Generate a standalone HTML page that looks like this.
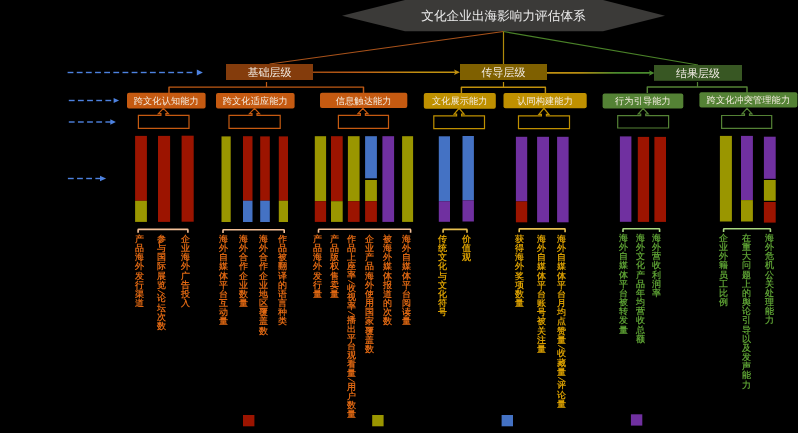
<!DOCTYPE html>
<html><head><meta charset="utf-8"><style>
html,body{margin:0;padding:0;background:#000;width:798px;height:433px;overflow:hidden}
svg{position:absolute;left:0;top:0;font-family:"Liberation Sans",sans-serif;will-change:transform;text-rendering:geometricPrecision}
.lb{position:absolute;top:234.5px;width:9.2px;font-family:"Liberation Serif",serif;font-size:8.6px;font-weight:bold;line-height:9.15px;word-break:break-all;text-align:center;will-change:transform}
.sl{display:block;position:static}
</style></head><body>
<svg width="798" height="433" viewBox="0 0 798 433">
<polygon points="342,15.7 405,0 603,0 665,15.7 603,31.3 405,31.3" fill="#3b3a38"/>
<text x="503.5" y="19.9" font-size="12.65" fill="#ececec" text-anchor="middle">文化企业出海影响力评估体系</text>
<line x1="503.5" y1="31.5" x2="269.5" y2="64" stroke="#a8521a" stroke-width="1.2"/>
<line x1="503.5" y1="31.5" x2="503.5" y2="64" stroke="#b08a0a" stroke-width="1.2"/>
<line x1="503.5" y1="31.5" x2="698" y2="65" stroke="#4a8228" stroke-width="1.2"/>
<defs>
<linearGradient id="g1" x1="313" y1="0" x2="460" y2="0" gradientUnits="userSpaceOnUse"><stop offset="0" stop-color="#a04c12"/><stop offset="0.3" stop-color="#bc5c16"/><stop offset="0.72" stop-color="#c09010"/><stop offset="1" stop-color="#c09010"/></linearGradient>
<linearGradient id="g2" x1="547" y1="0" x2="654" y2="0" gradientUnits="userSpaceOnUse"><stop offset="0" stop-color="#c09010"/><stop offset="0.3" stop-color="#b88c10"/><stop offset="0.65" stop-color="#4a8a2e"/><stop offset="1" stop-color="#4a8a2e"/></linearGradient>
</defs>
<rect x="226" y="64" width="87" height="16" fill="#843c0c"/>
<text x="269.5" y="75.8" font-size="11" fill="#f2ece4" text-anchor="middle">基础层级</text>
<rect x="460" y="64" width="87" height="16" fill="#7f6000"/>
<text x="503.5" y="75.8" font-size="11" fill="#f2ece4" text-anchor="middle">传导层级</text>
<rect x="654" y="65" width="88" height="15.799999999999997" fill="#385723"/>
<text x="698.0" y="76.6" font-size="11" fill="#f2ece4" text-anchor="middle">结果层级</text>
<line x1="313" y1="72.2" x2="456" y2="72.2" stroke="url(#g1)" stroke-width="1.6"/>
<polygon points="454,69.6 459.9,72.2 454,74.9 455.3,72.2" fill="#c09010"/>
<line x1="547" y1="72.9" x2="650" y2="72.9" stroke="url(#g2)" stroke-width="1.6"/>
<polygon points="648.9,70.2 654.5,72.9 648.9,75.7 650.2,72.9" fill="#4a8a2e"/>
<rect x="67.60" y="71.80" width="5.80" height="1.4" fill="#4d82e0"/>
<rect x="76.75" y="71.80" width="5.80" height="1.4" fill="#4d82e0"/>
<rect x="85.90" y="71.80" width="5.80" height="1.4" fill="#4d82e0"/>
<rect x="95.05" y="71.80" width="5.80" height="1.4" fill="#4d82e0"/>
<rect x="104.20" y="71.80" width="5.80" height="1.4" fill="#4d82e0"/>
<rect x="113.35" y="71.80" width="5.80" height="1.4" fill="#4d82e0"/>
<rect x="122.50" y="71.80" width="5.80" height="1.4" fill="#4d82e0"/>
<rect x="131.65" y="71.80" width="5.80" height="1.4" fill="#4d82e0"/>
<rect x="140.80" y="71.80" width="5.80" height="1.4" fill="#4d82e0"/>
<rect x="149.95" y="71.80" width="5.80" height="1.4" fill="#4d82e0"/>
<rect x="159.10" y="71.80" width="5.80" height="1.4" fill="#4d82e0"/>
<rect x="168.25" y="71.80" width="5.80" height="1.4" fill="#4d82e0"/>
<rect x="177.40" y="71.80" width="5.80" height="1.4" fill="#4d82e0"/>
<rect x="186.55" y="71.80" width="5.80" height="1.4" fill="#4d82e0"/>
<polygon points="196.8,69.6 202.9,72.5 196.8,75.4" fill="#4d82e0"/>
<rect x="68.80" y="99.80" width="5.80" height="1.4" fill="#4d82e0"/>
<rect x="77.95" y="99.80" width="5.80" height="1.4" fill="#4d82e0"/>
<rect x="87.10" y="99.80" width="5.80" height="1.4" fill="#4d82e0"/>
<rect x="96.25" y="99.80" width="5.80" height="1.4" fill="#4d82e0"/>
<rect x="105.40" y="99.80" width="5.80" height="1.4" fill="#4d82e0"/>
<polygon points="113.6,97.9 119.1,100.5 113.6,103.1" fill="#4d82e0"/>
<rect x="68.80" y="121.30" width="5.80" height="1.4" fill="#4d82e0"/>
<rect x="77.95" y="121.30" width="5.80" height="1.4" fill="#4d82e0"/>
<rect x="87.10" y="121.30" width="5.80" height="1.4" fill="#4d82e0"/>
<rect x="96.25" y="121.30" width="5.80" height="1.4" fill="#4d82e0"/>
<rect x="105.40" y="121.30" width="5.80" height="1.4" fill="#4d82e0"/>
<polygon points="110.3,119.3 115.9,122 110.3,124.7" fill="#4d82e0"/>
<rect x="67.90" y="177.80" width="5.80" height="1.4" fill="#4d82e0"/>
<rect x="77.05" y="177.80" width="5.80" height="1.4" fill="#4d82e0"/>
<rect x="86.20" y="177.80" width="5.80" height="1.4" fill="#4d82e0"/>
<rect x="95.35" y="177.80" width="5.65" height="1.4" fill="#4d82e0"/>
<polygon points="100,175.8 106.1,178.5 100,181.2" fill="#4d82e0"/>
<polyline points="169,93 169,87.1 363.5,87.1 363.5,93" fill="none" stroke="#c05a14" stroke-width="1.45" stroke-linejoin="round"/>
<line x1="266.5" y1="82" x2="266.5" y2="87.1" stroke="#c05a14" stroke-width="1.2"/>
<polyline points="461.4,93 461.4,87.3 545.4,87.3 545.4,93" fill="none" stroke="#bf900c" stroke-width="1.45" stroke-linejoin="round"/>
<line x1="503.5" y1="82" x2="503.5" y2="87.3" stroke="#bf900c" stroke-width="1.2"/>
<polyline points="647.3,93 647.3,86.9 747,86.9 747,93" fill="none" stroke="#548235" stroke-width="1.45" stroke-linejoin="round"/>
<line x1="697.5" y1="82" x2="697.5" y2="86.9" stroke="#548235" stroke-width="1.2"/>
<rect x="127" y="92.7" width="78.6" height="15.899999999999991" rx="2" fill="#c55a11"/>
<text x="166.3" y="104.3" font-size="9.2" letter-spacing="0.1" fill="#f4ece0" text-anchor="middle">跨文化认知能力</text>
<rect x="216" y="93" width="78.60000000000002" height="15.5" rx="2" fill="#c55a11"/>
<text x="255.3" y="104.2" font-size="9.2" letter-spacing="0.1" fill="#f4ece0" text-anchor="middle">跨文化适应能力</text>
<rect x="320" y="92.8" width="87.30000000000001" height="15.100000000000009" rx="2" fill="#c55a11"/>
<text x="363.65" y="103.60000000000001" font-size="9.2" letter-spacing="0.1" fill="#f4ece0" text-anchor="middle">信息触达能力</text>
<rect x="423.8" y="93" width="72.0" height="15.700000000000003" rx="2" fill="#bf9000"/>
<text x="459.8" y="104.4" font-size="9.2" letter-spacing="0.1" fill="#f4ece0" text-anchor="middle">文化展示能力</text>
<rect x="503.5" y="93" width="83.20000000000005" height="15.299999999999997" rx="2" fill="#bf9000"/>
<text x="545.1" y="104.0" font-size="9.2" letter-spacing="0.1" fill="#f4ece0" text-anchor="middle">认同构建能力</text>
<rect x="602.6" y="93.4" width="80.69999999999993" height="15.199999999999989" rx="2" fill="#548235"/>
<text x="642.95" y="104.3" font-size="9.2" letter-spacing="0.1" fill="#f4ece0" text-anchor="middle">行为引导能力</text>
<rect x="699.4" y="92.2" width="98.0" height="15.299999999999997" rx="2" fill="#548235"/>
<text x="748.4" y="103.2" font-size="9.2" letter-spacing="0.1" fill="#f4ece0" text-anchor="middle">跨文化冲突管理能力</text>
<path d="M138.4,115.3 L160.9,115.3 L160.9,113.7 L158.4,113.7 L163.4,108.3 L168.4,113.7 L165.9,113.7 L165.9,115.3 L189,115.3 L189,128.3 L138.4,128.3 Z" fill="none" stroke="#c55a11" stroke-width="1.2"/>
<path d="M229,115.3 L252.0,115.3 L252.0,113.7 L249.5,113.7 L254.5,108.3 L259.5,113.7 L257.0,113.7 L257.0,115.3 L280.2,115.3 L280.2,128.3 L229,128.3 Z" fill="none" stroke="#c55a11" stroke-width="1.2"/>
<path d="M338.4,115.3 L360.4,115.3 L360.4,113.7 L357.9,113.7 L362.9,108.3 L367.9,113.7 L365.4,113.7 L365.4,115.3 L388.5,115.3 L388.5,128.3 L338.4,128.3 Z" fill="none" stroke="#c55a11" stroke-width="1.2"/>
<path d="M433.8,115.8 L456.6,115.8 L456.6,114.2 L454.1,114.2 L459.1,108.3 L464.1,114.2 L461.6,114.2 L461.6,115.8 L484.5,115.8 L484.5,128.6 L433.8,128.6 Z" fill="none" stroke="#bf9000" stroke-width="1.2"/>
<path d="M518.5,115.9 L541.4,115.9 L541.4,114.30000000000001 L538.9,114.30000000000001 L543.9,108.3 L548.9,114.30000000000001 L546.4,114.30000000000001 L546.4,115.9 L569.5,115.9 L569.5,128.6 L518.5,128.6 Z" fill="none" stroke="#bf9000" stroke-width="1.2"/>
<path d="M617.7,115.6 L640.7,115.6 L640.7,114.0 L638.2,114.0 L643.2,108.3 L648.2,114.0 L645.7,114.0 L645.7,115.6 L668.6,115.6 L668.6,128.0 L617.7,128.0 Z" fill="none" stroke="#548235" stroke-width="1.2"/>
<path d="M721.6,115.5 L744.5,115.5 L744.5,113.9 L742,113.9 L747,108.3 L752,113.9 L749.5,113.9 L749.5,115.5 L771.7,115.5 L771.7,128.3 L721.6,128.3 Z" fill="none" stroke="#548235" stroke-width="1.2"/>
<rect x="135.1" y="135.9" width="11.800000000000011" height="64.9" fill="#9c1400"/>
<rect x="135.1" y="200.8" width="11.800000000000011" height="21.099999999999994" fill="#9a9600"/>
<rect x="158" y="135.9" width="12.099999999999994" height="86.0" fill="#9c1400"/>
<rect x="181.6" y="135.7" width="12.099999999999994" height="86.0" fill="#9c1400"/>
<rect x="221.5" y="136.4" width="9.199999999999989" height="85.6" fill="#9a9600"/>
<rect x="243" y="136.2" width="9.5" height="64.5" fill="#9c1400"/>
<rect x="243" y="200.7" width="9.5" height="21.30000000000001" fill="#4472c4"/>
<rect x="260.2" y="136.4" width="9.600000000000023" height="64.29999999999998" fill="#9c1400"/>
<rect x="260.2" y="200.7" width="9.600000000000023" height="21.30000000000001" fill="#4472c4"/>
<rect x="278.8" y="136.4" width="9.199999999999989" height="64.29999999999998" fill="#9c1400"/>
<rect x="278.8" y="200.7" width="9.199999999999989" height="21.30000000000001" fill="#9a9600"/>
<rect x="314.8" y="136.2" width="11.300000000000011" height="65.0" fill="#9a9600"/>
<rect x="314.8" y="201.2" width="11.300000000000011" height="20.700000000000017" fill="#9c1400"/>
<rect x="331" y="136.2" width="11.699999999999989" height="65.0" fill="#9c1400"/>
<rect x="331" y="201.2" width="11.699999999999989" height="20.700000000000017" fill="#9a9600"/>
<rect x="347.9" y="136.2" width="11.700000000000045" height="65.0" fill="#9a9600"/>
<rect x="347.9" y="201.2" width="11.700000000000045" height="20.700000000000017" fill="#9c1400"/>
<rect x="365.1" y="136.2" width="11.799999999999955" height="42.10000000000002" fill="#4472c4"/>
<rect x="365.1" y="180" width="11.799999999999955" height="21.19999999999999" fill="#9a9600"/>
<rect x="365.1" y="201.2" width="11.799999999999955" height="20.700000000000017" fill="#9c1400"/>
<rect x="382.4" y="136.2" width="11.700000000000045" height="85.70000000000002" fill="#7030a0"/>
<rect x="402.1" y="136.2" width="11.0" height="85.70000000000002" fill="#9a9600"/>
<rect x="438.8" y="136.3" width="11.199999999999989" height="64.89999999999998" fill="#4472c4"/>
<rect x="438.8" y="201.2" width="11.199999999999989" height="20.600000000000023" fill="#7030a0"/>
<rect x="462.5" y="136.0" width="11.399999999999977" height="64.30000000000001" fill="#4472c4"/>
<rect x="462.5" y="200.3" width="11.399999999999977" height="21.19999999999999" fill="#7030a0"/>
<rect x="515.9" y="136.8" width="11.300000000000068" height="64.6" fill="#7030a0"/>
<rect x="515.9" y="201.4" width="11.300000000000068" height="20.900000000000006" fill="#9c1400"/>
<rect x="537.1" y="136.8" width="11.899999999999977" height="85.5" fill="#7030a0"/>
<rect x="557.1" y="136.8" width="11.5" height="85.5" fill="#7030a0"/>
<rect x="619.9" y="136.4" width="11.5" height="85.4" fill="#7030a0"/>
<rect x="637.8" y="136.9" width="11.300000000000068" height="85.0" fill="#9c1400"/>
<rect x="654.4" y="136.9" width="11.600000000000023" height="85.0" fill="#9c1400"/>
<rect x="719.9" y="135.9" width="12.0" height="85.6" fill="#9a9600"/>
<rect x="741" y="135.9" width="11.899999999999977" height="64.19999999999999" fill="#7030a0"/>
<rect x="741" y="200.1" width="11.899999999999977" height="21.400000000000006" fill="#9a9600"/>
<rect x="763.9" y="136.7" width="11.800000000000068" height="42.10000000000002" fill="#7030a0"/>
<rect x="763.9" y="180" width="11.800000000000068" height="20.80000000000001" fill="#9a9600"/>
<rect x="763.9" y="202" width="11.800000000000068" height="20.599999999999994" fill="#9c1400"/>
<path d="M138.1,232.8 L138.1,230.0 Q138.1,229.4 138.7,229.4 L187.3,229.4 Q187.9,229.4 187.9,230.0 L187.9,232.8" fill="none" stroke="#f4c098" stroke-width="1.6"/>
<path d="M223,233.1 L223,230.29999999999998 Q223,229.7 223.6,229.7 L283.59999999999997,229.7 Q284.2,229.7 284.2,230.29999999999998 L284.2,233.1" fill="none" stroke="#f4c098" stroke-width="1.6"/>
<path d="M318.5,232.70000000000002 L318.5,229.9 Q318.5,229.3 319.1,229.3 L410.0,229.3 Q410.6,229.3 410.6,229.9 L410.6,232.70000000000002" fill="none" stroke="#f4c098" stroke-width="1.6"/>
<path d="M443.1,232.8 L443.1,230.0 Q443.1,229.4 443.70000000000005,229.4 L466.4,229.4 Q467,229.4 467,230.0 L467,232.8" fill="none" stroke="#e8c050" stroke-width="1.6"/>
<path d="M519.2,232.3 L519.2,229.5 Q519.2,228.9 519.8000000000001,228.9 L564.5,228.9 Q565.1,228.9 565.1,229.5 L565.1,232.3" fill="none" stroke="#e8c050" stroke-width="1.6"/>
<path d="M623,232.1 L623,229.29999999999998 Q623,228.7 623.6,228.7 L659.0,228.7 Q659.6,228.7 659.6,229.29999999999998 L659.6,232.1" fill="none" stroke="#a8d880" stroke-width="1.6"/>
<path d="M723.6,232.1 L723.6,229.29999999999998 Q723.6,228.7 724.2,228.7 L769.8,228.7 Q770.4,228.7 770.4,229.29999999999998 L770.4,232.1" fill="none" stroke="#a8d880" stroke-width="1.6"/>
<rect x="243" y="415" width="11.4" height="11.3" fill="#9c1400"/>
<rect x="372.2" y="415" width="11.4" height="11.3" fill="#9a9600"/>
<rect x="501.6" y="415" width="11.4" height="11.3" fill="#4472c4"/>
<rect x="630.9" y="414.3" width="11.4" height="11.3" fill="#7030a0"/>
</svg>
<div class="lb" style="left:134.8px;color:#dc6612;">产品海外发行渠道</div>
<div class="lb" style="left:157.0px;color:#dc6612;">参与国际展览<svg class="sl" width="9.2" height="4.5"><line x1="1.2" y1="0.3" x2="7.8" y2="4.2" stroke="currentColor" stroke-width="1"/></svg>论坛次数</div>
<div class="lb" style="left:180.8px;color:#dc6612;">企业海外广告投入</div>
<div class="lb" style="left:219.2px;color:#dc6612;">海外自媒体平台互动量</div>
<div class="lb" style="left:239.2px;color:#dc6612;">海外合作企业数量</div>
<div class="lb" style="left:258.6px;color:#dc6612;">海外合作企业地区覆盖数</div>
<div class="lb" style="left:278.0px;color:#dc6612;">作品被翻译的语言种类</div>
<div class="lb" style="left:312.5px;color:#dc6612;">产品海外发行量</div>
<div class="lb" style="left:330.2px;color:#dc6612;">产品版权售卖量</div>
<div class="lb" style="left:347.2px;color:#dc6612;line-height:8.95px;">作品上座率<svg class="sl" width="9.2" height="4.5"><line x1="1.2" y1="0.3" x2="7.8" y2="4.2" stroke="currentColor" stroke-width="1"/></svg>收视率<svg class="sl" width="9.2" height="4.5"><line x1="1.2" y1="0.3" x2="7.8" y2="4.2" stroke="currentColor" stroke-width="1"/></svg>播出平台观看量<svg class="sl" width="9.2" height="4.5"><line x1="1.2" y1="0.3" x2="7.8" y2="4.2" stroke="currentColor" stroke-width="1"/></svg>用户数量</div>
<div class="lb" style="left:364.8px;color:#dc6612;">企业产品海外使用国家覆盖数</div>
<div class="lb" style="left:383.2px;color:#dc6612;">被海外媒体报道的次数</div>
<div class="lb" style="left:401.7px;color:#dc6612;">海外自媒体平台阅读量</div>
<div class="lb" style="left:437.9px;color:#d89e00;">传统文化与文化符号</div>
<div class="lb" style="left:462.0px;color:#d89e00;">价值观</div>
<div class="lb" style="left:515.2px;color:#d89e00;">获得海外奖项数量</div>
<div class="lb" style="left:536.8px;color:#d89e00;">海外自媒体平台账号被关注量</div>
<div class="lb" style="left:556.7px;color:#d89e00;">海外自媒体平台月均点赞量<svg class="sl" width="9.2" height="4.5"><line x1="1.2" y1="0.3" x2="7.8" y2="4.2" stroke="currentColor" stroke-width="1"/></svg>收藏量<svg class="sl" width="9.2" height="4.5"><line x1="1.2" y1="0.3" x2="7.8" y2="4.2" stroke="currentColor" stroke-width="1"/></svg>评论量</div>
<div class="lb" style="left:619.1px;color:#5a9c32;top:233.6px;">海外自媒体平台被转发量</div>
<div class="lb" style="left:635.7px;color:#5a9c32;top:233.6px;">海外文化产品年均营收总额</div>
<div class="lb" style="left:652.4px;color:#5a9c32;top:233.6px;">海外营收利润率</div>
<div class="lb" style="left:718.9px;color:#5a9c32;top:233.6px;">企业外籍员工比例</div>
<div class="lb" style="left:741.7px;color:#5a9c32;top:233.6px;">在重大问题上的舆论引导以及发声能力</div>
<div class="lb" style="left:764.6px;color:#5a9c32;top:233.6px;">海外危机公关处理能力</div>
</body></html>
